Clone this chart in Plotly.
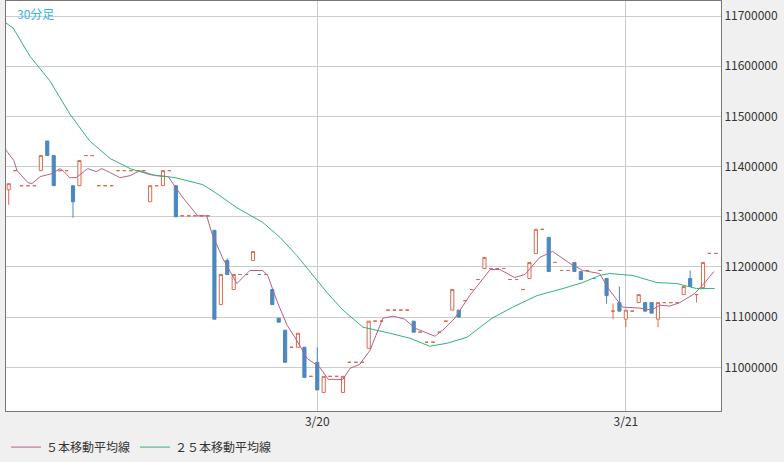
import plotly.graph_objects as go

# Prices in thousand yen (converted to yen below)
opens = [11354,11392,11362,11362,11362,11392,11451,11422,11392,11392,
 11362,11362,11422,11422,11362,11362,11362,11392,11392,11392,
 11392,11392,11330,11362,11362,11392,11362,11302,11302,11302,
 11302,11302,11273,11125,11213,11155,11185,11185,11213,11185,
 11185,11155,11098,11074,11040,11040,11040,10982,11010,10950,
 10982,10982,10950,11010,11010,11010,11038,11092,11092,11114,
 11114,11114,11114,11092,11070,11050,11050,11070,11092,11114,
 11114,11133,11155,11175,11197,11197,11197,11197,11175,11175,
 11155,11177,11227,11275,11259,11209,11193,11193,11209,11191,
 11193,11177,11193,11177,11112,11129,11096,11112,11129,11129,
 11129,11096,11129,11129,11129,11145,11177,11145,11159,11227,
 11227]
highs = [11366,11392,11362,11362,11362,11422,11451,11422,11392,11392,
 11362,11412,11422,11422,11362,11362,11362,11392,11392,11392,
 11392,11392,11362,11362,11392,11392,11362,11302,11302,11302,
 11302,11302,11273,11185,11217,11185,11185,11185,11231,11185,
 11185,11155,11098,11074,11040,11068,11040,10982,11040,10982,
 10982,10982,10982,11010,11010,11010,11092,11092,11092,11114,
 11114,11114,11114,11092,11070,11050,11050,11070,11092,11155,
 11114,11133,11155,11175,11219,11197,11197,11197,11175,11175,
 11155,11209,11275,11275,11259,11209,11193,11193,11209,11191,
 11193,11177,11193,11177,11127,11161,11114,11112,11145,11129,
 11129,11129,11129,11129,11129,11161,11193,11145,11209,11227,
 11227]
lows = [11324,11392,11362,11362,11362,11392,11422,11362,11392,11392,
 11298,11362,11422,11422,11362,11362,11362,11392,11392,11392,
 11392,11392,11330,11362,11362,11392,11300,11302,11302,11302,
 11302,11302,11096,11125,11185,11155,11185,11185,11213,11185,
 11185,11125,11090,11010,11040,11040,10980,10982,10955,10950,
 10982,10982,10950,11010,11010,11010,11038,11092,11092,11114,
 11114,11114,11114,11070,11070,11050,11050,11070,11092,11114,
 11100,11133,11155,11175,11197,11197,11197,11197,11175,11175,
 11155,11177,11227,11275,11191,11209,11193,11193,11191,11175,
 11193,11177,11193,11127,11096,11112,11080,11112,11129,11112,
 11108,11080,11129,11129,11129,11145,11161,11129,11159,11227,
 11227]
closes = [11366,11392,11362,11362,11362,11422,11422,11362,11392,11392,
 11330,11412,11422,11422,11362,11362,11362,11392,11392,11392,
 11392,11392,11362,11362,11392,11392,11300,11302,11302,11302,
 11302,11302,11096,11185,11185,11185,11185,11185,11231,11185,
 11185,11125,11090,11010,11040,11068,10980,10982,10955,10982,
 10982,10982,10982,11010,11010,11010,11092,11092,11092,11114,
 11114,11114,11114,11070,11070,11050,11050,11070,11092,11155,
 11100,11133,11155,11175,11219,11197,11197,11197,11175,11175,
 11155,11209,11275,11275,11191,11209,11193,11193,11191,11175,
 11193,11177,11193,11143,11112,11112,11114,11112,11145,11112,
 11108,11129,11129,11129,11129,11161,11161,11145,11209,11227,
 11227]
blue_dojis = [39, 91]

ma5_x = [-1.3,0.8,1.3,3.0,3.6,4.9,6.7,8.0,8.6,9.5,10.5,12.3,13.6,14.5,15.8,17.3,18.9,20.4,22.8,24.8,
 27.1,29.4,30.8,31.6,33.3,35.5,37.5,39.5,40.3,41.7,43.3,44.8,46.4,48.4,49.7,52.0,53.1,54.6,56.2,58.2,
 59.8,61.6,63.2,66.3,67.5,69.4,71.7,74.9,76.4,78.7,80.3,82.6,84.6,87.3,89.3,91.9,93.5,95.5,98.2,100.0,
 101.3,102.8,104.4,106.7,108.3,109.7]
ma5_v = [11448,11412,11392,11368,11366,11380,11386,11396,11390,11378,11378,11396,11390,11396,11388,11378,11382,11392,11382,11380,
 11338,11302,11302,11267,11217,11167,11193,11193,11183,11133,11084,11054,11018,11000,10976,10976,10998,11006,11034,11098,
 11102,11096,11078,11062,11074,11098,11143,11195,11195,11179,11185,11219,11231,11207,11193,11187,11153,11120,11118,11114,
 11124,11122,11129,11147,11169,11191]

ma25_x = [-1.3,0.7,3.3,6.4,9.5,12.6,15.8,18.9,22.0,25.9,30.2,32.4,35.5,39.5,42.2,44.8,48.0,49.5,52.0,55.1,
 59.3,62.4,65.5,68.2,71.3,73.3,75.2,78.4,82.2,86.2,89.3,91.9,93.5,97.1,100.8,103.9,107.0,109.8]
ma25_v = [11694,11676,11620,11571,11505,11451,11416,11396,11384,11378,11364,11346,11318,11289,11259,11223,11173,11149,11114,11080,
 11068,11058,11042,11048,11060,11080,11098,11120,11143,11157,11169,11183,11187,11183,11169,11167,11157,11157]

y_ticks = [11000000,11100000,11200000,11300000,11400000,11500000,11600000,11700000]
x_tickvals = [-0.27, 48, 96]
x_ticktext = ["", "3/20", "3/21"]

K = 1000
RED = "#dc6a4e"
BLUE = "#4a88c0"

def split(is_blue):
    xs, o, h, l, c = [], [], [], [], []
    for i in range(len(opens)):
        b = closes[i] < opens[i] or i in blue_dojis
        if b == is_blue:
            xs.append(i); o.append(opens[i]*K); h.append(highs[i]*K)
            l.append(lows[i]*K); c.append(closes[i]*K)
    return xs, o, h, l, c

fig = go.Figure()
for is_blue in (False, True):
    xs, o, h, l, c = split(is_blue)
    col = BLUE if is_blue else RED
    fill = BLUE if is_blue else "white"
    fig.add_trace(go.Candlestick(
        x=xs, open=o, high=h, low=l, close=c,
        increasing=dict(line=dict(color=col, width=1), fillcolor=fill),
        decreasing=dict(line=dict(color=col, width=1), fillcolor=fill),
        whiskerwidth=0, showlegend=False, hoverinfo="skip"))
fig.add_trace(go.Scatter(x=ma5_x, y=[v*K for v in ma5_v], mode="lines",
    line=dict(color="#b5608a", width=1), name="５本移動平均線"))
fig.add_trace(go.Scatter(x=ma25_x, y=[v*K for v in ma25_v], mode="lines",
    line=dict(color="#2fb27a", width=1), name="２５本移動平均線"))

fig.update_layout(
    width=784, height=462,
    margin=dict(l=6, r=63, t=1, b=51, autoexpand=False),
    paper_bgcolor="#f0f0f0", plot_bgcolor="white",
    font=dict(family="Noto Sans CJK JP", size=12, color="#333"),
    showlegend=True, boxmode="overlay",
    legend=dict(orientation="h", x=0.0, xanchor="left", y=-0.088, yanchor="middle",
                bgcolor="rgba(0,0,0,0)", font=dict(size=12, color="#333"),
                itemwidth=30, tracegroupgap=0),
    xaxis=dict(range=[-0.42, 110.8], tickvals=x_tickvals, ticktext=x_ticktext,
               showgrid=True, gridcolor="#cccccc", gridwidth=1, ticks="",
               showline=True, linecolor="#777", mirror=True, zeroline=False,
               automargin=False, rangeslider=dict(visible=False), tickfont=dict(size=12)),
    yaxis=dict(range=[10913000, 11730000], side="right", tickvals=y_ticks,
               tickformat="d", showgrid=True, gridcolor="#cccccc", gridwidth=1,
               ticks="", showline=True, linecolor="#777", mirror=True,
               automargin=False, zeroline=False, tickfont=dict(size=12)),
    annotations=[dict(text="30分足", xref="paper", yref="paper", x=0.012, y=0.995,
                      xanchor="left", yanchor="top", showarrow=False,
                      font=dict(color="#33b5e5", size=12))],
)
fig.write_html("out.html", config={"displayModeBar": False},
               post_script="document.body.style.margin='0';document.body.style.background='#f0f0f0';")
